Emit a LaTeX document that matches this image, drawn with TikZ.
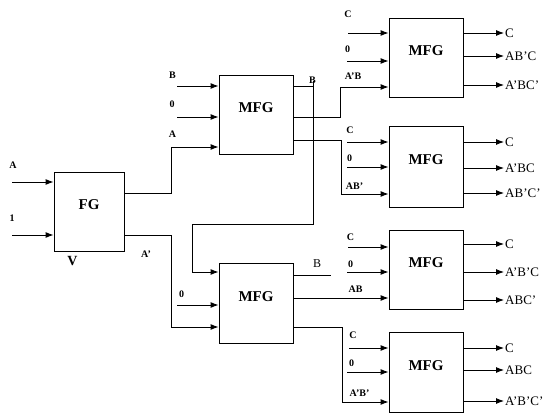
\documentclass[tikz,border=0pt]{standalone}
\usepackage{fontspec}
\setmainfont{Liberation Serif}
\usetikzlibrary{arrows.meta}
\tikzset{
  blk/.style={draw, line width=0.9pt, minimum width=74pt, minimum height=79pt,
    inner sep=0pt, text height=0pt, text depth=4pt,
    font=\fontsize{15}{15}\selectfont\bfseries},
  wire/.style={line width=0.9pt},
  arr/.style={wire, -{Latex[length=8pt,width=6pt]}},
  inlbl/.style={inner sep=0pt, font=\fontsize{10}{10}\selectfont\bfseries},
  outlbl/.style={anchor=west, inner sep=1pt, font=\fontsize{13}{13}\selectfont},
}
\begin{document}
\begin{tikzpicture}[x=1pt,y=-1pt]
  \useasboundingbox (0,0) rectangle (545,414);
  % blocks
  \node[blk, minimum width=70pt, text depth=5pt] (fg) at (89,211.5) {FG};
  \node[blk] (mA) at (256,114.5) {MFG};
  \node[blk] (mB) at (426,57.5) {MFG};
  \node[blk, minimum height=81pt] (mC) at (426,166.5) {MFG};
  \node[blk, minimum height=80pt] (mD) at (256,303) {MFG};
  \node[blk] (mE) at (426,269.5) {MFG};
  \node[blk, minimum height=80pt] (mF) at (426,372) {MFG};

  % FG inputs
  \coordinate (fgA) at (12,182);
  \coordinate (fg1) at (12,235);
  \draw[arr] (fgA) -- (fgA -| fg.west);
  \draw[arr] (fg1) -- (fg1 -| fg.west);
  \node[inlbl] (lA) at (13,165) {A};
  \node[inlbl] (l1) at (12,218) {1};
  \node[inlbl, font=\fontsize{14}{14}\selectfont\bfseries] (lV) at (72.5,261) {V};
  \node[inlbl] (lAn) at (146,254) {A'};

  % FG outputs
  \coordinate (fgT) at (124,193);
  \coordinate (fgB) at (124,235);
  \coordinate (jA) at (171,147);
  \coordinate (jAn) at (171,327);
  \draw[arr] (fgT) -| (jA) -- (jA -| mA.west);
  \draw[arr] (fgB) -| (jAn) -- (jAn -| mD.west);

  % first MFG
  \coordinate (mAb) at (177,86);
  \coordinate (mAz) at (177,117);
  \draw[arr] (mAb) -- (mAb -| mA.west);
  \draw[arr] (mAz) -- (mAz -| mA.west);
  \node[inlbl] (lB) at (172.5,75.5) {B};
  \node[inlbl] (lz1) at (172,104) {0};
  \node[inlbl] (lA2) at (172.5,134) {A};

  \coordinate (oAt) at (293,86);
  \coordinate (jB1) at (313,81);
  \coordinate (jB2) at (192,224);
  \coordinate (jB3) at (192,272);
  \draw[wire] (oAt) -- (oAt -| jB1);
  \draw[arr] (jB1) |- (jB2) -- (jB3) -- (jB3 -| mD.west);
  \node[inlbl] (lB2) at (312.5,80) {B};

  \coordinate (oAm) at (293,117);
  \coordinate (jAB) at (340,87);
  \draw[arr] (oAm) -| (jAB) -- (jAB -| mB.west);
  \node[inlbl] (lAnB) at (353,76.5) {A'B};

  \coordinate (oAl) at (293,140);
  \coordinate (jABn) at (341,194);
  \draw[arr] (oAl) -| (jABn) -- (jABn -| mC.west);
  \node[inlbl] (lABn) at (354.5,186) {AB'};

  % second-row MFG
  \coordinate (mDz) at (177,305);
  \draw[arr] (mDz) -- (mDz -| mD.west);
  \node[inlbl] (lz4) at (181.5,294.5) {0};

  \coordinate (oDt) at (293,275);
  \coordinate (eDt) at (331,275);
  \draw[wire] (oDt) -- (eDt);
  \node[font=\fontsize{12}{12}\selectfont, inner sep=0pt] (lB3) at (317,264) {B};

  \coordinate (oDm) at (293,298);
  \draw[arr] (oDm) -- (oDm -| mE.west);
  \node[inlbl] (lAB) at (355.5,289.5) {AB};

  \coordinate (oDl) at (293,327);
  \coordinate (jAnBn) at (342,402);
  \draw[arr] (oDl) -| (jAnBn) -- (jAnBn -| mF.west);
  \node[inlbl] (lAnBn) at (359.5,393) {A'B'};

  % C and 0 inputs
  \coordinate (cB) at (348,33);  \coordinate (zB) at (347,61);
  \coordinate (cC) at (347,142); \coordinate (zC) at (347,167);
  \coordinate (cE) at (348,247); \coordinate (zE) at (347,272);
  \coordinate (cF) at (349,348); \coordinate (zF) at (347,372);
  \foreach \b in {B,C,E,F} {
    \draw[arr] (c\b) -- (c\b -| m\b.west);
    \draw[arr] (z\b) -- (z\b -| m\b.west);
  }
  \node[inlbl] (lcB) at (348,14.5) {C};
  \node[inlbl] (lzB) at (347.5,49.5) {0};
  \node[inlbl] (lcC) at (350,130) {C};
  \node[inlbl] (lzC) at (349.5,158) {0};
  \node[inlbl] (lcE) at (350.5,237.5) {C};
  \node[inlbl] (lzE) at (350.5,264.5) {0};
  \node[inlbl] (lcF) at (353,335) {C};
  \node[inlbl] (lzF) at (351.5,363.5) {0};

  % outputs
  \foreach \b/\y/\t [count=\i] in {mB/33/C, mB/56/AB'C, mB/85/A'BC',
      mC/142/C, mC/168/A'BC, mC/193/AB'C',
      mE/244/C, mE/272/A'B'C, mE/300/ABC',
      mF/348/C, mF/370/ABC, mF/401/A'B'C'} {
    \node[outlbl] (o\i) at (504,\y) {\t};
    \draw[arr] (o\i -| \b.east) -- (o\i.west);
  }
\end{tikzpicture}
\end{document}
